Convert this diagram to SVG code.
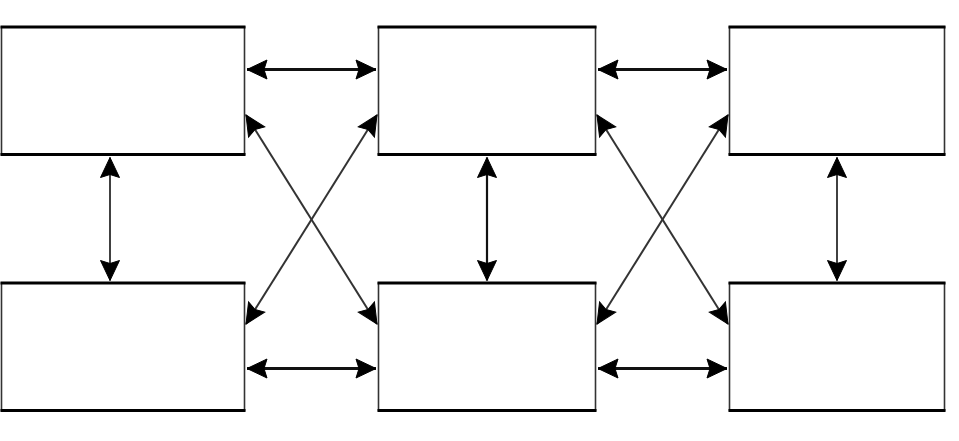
<svg xmlns="http://www.w3.org/2000/svg" width="959" height="441" viewBox="0 0 959 441">
<style>
.box{fill:#fff;stroke:#333;stroke-width:1.6}
.edge{stroke:#000;stroke-width:3.2}
.c{fill:none;stroke:#111;marker-start:url(#ah);marker-end:url(#ah)}
.h{stroke-width:3}
.v{stroke-width:1.6}
.d{stroke-width:2;stroke:#333}
</style>
<defs>
<marker id="ah" markerUnits="userSpaceOnUse" viewBox="-24 -12 26 24" refX="0" refY="0" markerWidth="26" markerHeight="24" orient="auto-start-reverse">
<path d="M0,0 L-20,-9.5 L-17,0 L-20,9.5 Z" fill="#000" stroke="#000" stroke-width="1"/>
</marker>
</defs>
<g id="n1"><rect class="box" x="1.5" y="27" width="243" height="127.5"/><line class="edge" x1="0.5" y1="27" x2="245.5" y2="27"/><line class="edge" x1="0.5" y1="154.5" x2="245.5" y2="154.5"/></g>
<g id="n2"><rect class="box" x="378.5" y="27" width="217" height="127.5"/><line class="edge" x1="377.5" y1="27" x2="596.5" y2="27"/><line class="edge" x1="377.5" y1="154.5" x2="596.5" y2="154.5"/></g>
<g id="n3"><rect class="box" x="729.5" y="27" width="215" height="127.5"/><line class="edge" x1="728.5" y1="27" x2="945.5" y2="27"/><line class="edge" x1="728.5" y1="154.5" x2="945.5" y2="154.5"/></g>
<g id="n4"><rect class="box" x="1.5" y="283" width="243" height="127.5"/><line class="edge" x1="0.5" y1="283" x2="245.5" y2="283"/><line class="edge" x1="0.5" y1="410.5" x2="245.5" y2="410.5"/></g>
<g id="n5"><rect class="box" x="378.5" y="283" width="217" height="127.5"/><line class="edge" x1="377.5" y1="283" x2="596.5" y2="283"/><line class="edge" x1="377.5" y1="410.5" x2="596.5" y2="410.5"/></g>
<g id="n6"><rect class="box" x="729.5" y="283" width="215" height="127.5"/><line class="edge" x1="728.5" y1="283" x2="945.5" y2="283"/><line class="edge" x1="728.5" y1="410.5" x2="945.5" y2="410.5"/></g>
<g id="connectors">
<line class="c h" x1="247" y1="69.5" x2="376" y2="69.5"/>
<line class="c h" x1="598" y1="69.5" x2="727" y2="69.5"/>
<line class="c h" x1="247" y1="368.5" x2="376" y2="368.5"/>
<line class="c h" x1="598" y1="368.5" x2="727" y2="368.5"/>
<line class="c v" x1="110" y1="157.5" x2="110" y2="280.5"/>
<line class="c v" x1="487" y1="157.5" x2="487" y2="280.5" style="stroke-width:2.2"/>
<line class="c v" x1="837" y1="157.5" x2="837" y2="280.5"/>
<line class="c d" x1="246" y1="115" x2="377" y2="324"/>
<line class="c d" x1="377" y1="115" x2="246" y2="324"/>
<line class="c d" x1="597" y1="115" x2="728" y2="324"/>
<line class="c d" x1="728" y1="115" x2="597" y2="324"/>
</g>
</svg>
